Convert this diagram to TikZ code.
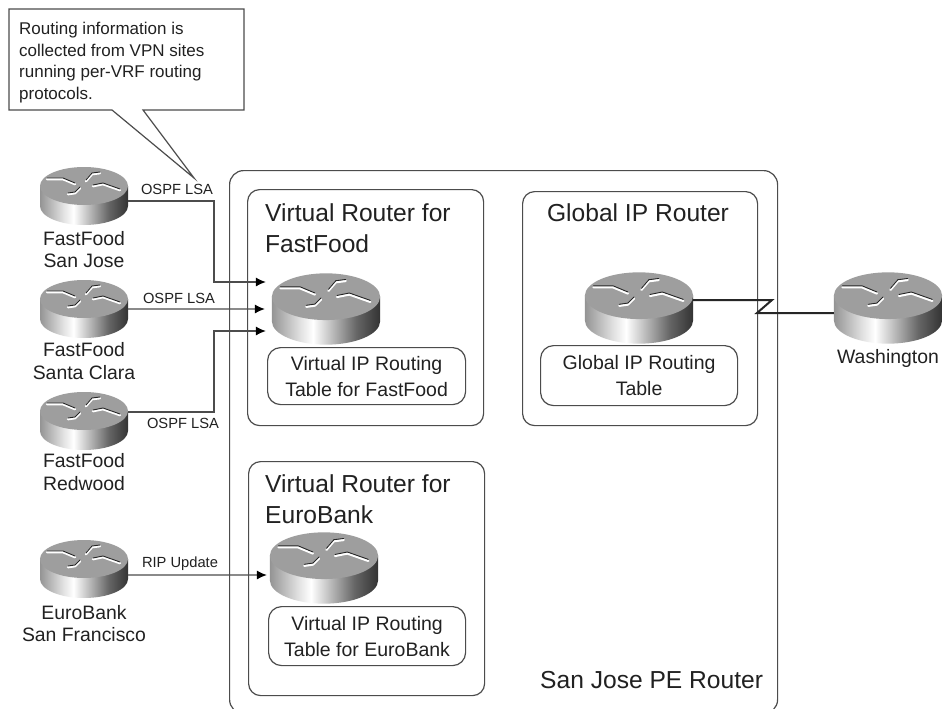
\documentclass[tikz,border=0pt]{standalone}
\usepackage{fontspec}
\setmainfont{Liberation Sans}
\usetikzlibrary{arrows.meta,calc,positioning}
\pgfdeclarehorizontalshading{routerside}{100bp}{color(0bp)=(black!42); color(25bp)=(black!42); color(38bp)=(black!12); color(44bp)=(white); color(54bp)=(black!30); color(64bp)=(black!60); color(75bp)=(black!80); color(100bp)=(black!80)}
\definecolor{lineGray}{rgb}{0.3 0.3 0.3}
\definecolor{textGray}{rgb}{0.13 0.13 0.13}
\tikzset{
  outerBox/.style={draw=lineGray,line width=1.2pt,rounded corners=14pt,anchor=north west,inner sep=0pt},
  innerBox/.style={draw=lineGray,line width=1.2pt,rounded corners=12pt,anchor=north west,inner sep=0pt},
  tableBox/.style={draw=lineGray,line width=1.2pt,rounded corners=13pt,anchor=north west,inner sep=0pt,align=center,text=textGray,font=\fontsize{19.5}{26}\selectfont},
  titleText/.style={anchor=west,align=left,inner sep=0pt,text=textGray,font=\fontsize{24.6}{31}\selectfont},
  siteText/.style={align=center,inner sep=0pt,text=textGray,font=\fontsize{19.4}{22.7}\selectfont},
  wireText/.style={inner sep=0pt,text=textGray,font=\fontsize{14.7}{16}\selectfont},
  wire/.style={draw=lineGray,line width=1.2pt},
  serial/.style={draw=black!85,line width=2pt},
  >={Latex[length=10pt,width=9pt,color=black]}
}

\begin{document}
\begin{tikzpicture}[x=1pt,y=-1pt]

      \useasboundingbox (0,0) rectangle (943,709);
      \fill[white] (0,0) rectangle (943,709);

      % draw the boxes
      \node[outerBox,minimum width=548pt,minimum height=543pt] (peBox) at (229,170) {};
      \node[innerBox,minimum width=236pt,minimum height=236pt] (vffBox) at (247,189) {};
      \node[innerBox,minimum width=236pt,minimum height=234pt] (vebBox) at (248,461) {};
      \node[innerBox,minimum width=235pt,minimum height=234pt] (globalBox) at (522,191) {};

      % draw the routers
      \def\routers{ffsj/84/186/1,
        ffsc/84/299/1,
        ffrw/84/411/1,
        ebsf/84/559/1,
        vff/326/296.7/1.23,
        veb/324/555.7/1.23,
        grt/639/295.7/1.23,
        wash/888/295.7/1.23}

      \foreach \rname/\rx/\ry/\rk in \routers
      {
        \pgfmathsetmacro\rw{88*\rk}
        \pgfmathsetmacro\rh{58*\rk}
        \begin{scope}[shift={(\rx,\ry)},xscale=\rk,yscale=\rk]
          \shade[shading=routerside] (-44,0) -- (-44,20) arc (180:0:44 and 19) -- (44,0) -- cycle;
          \fill[black!38] (0,0) ellipse (44 and 19);
          \foreach \wid/\col/\off in {2.3/white/1.2,0.9/black!85/0}
          {
            \draw[line width=\wid pt,\col,line cap=round,line join=round]
              (-37,-8+\off) -- (-21,-8+\off) -- (-9,-3+\off)
              (2,-6+\off) -- (8,-13+\off) -- (16,-14+\off)
              (9,-1+\off) -- (19,-3+\off) -- (36,3+\off)
              (-16,7+\off) -- (-9,6+\off) -- (-4,1+\off);
          }
          \node[minimum width=\rw pt,minimum height=\rh pt,inner sep=0pt,outer sep=0pt] (\rname) at (0,10) {};
        \end{scope}
      }

      % label the routers and the boxes
      \node[siteText] (ffsjText) at (84,249.5) {FastFood\\San Jose};
      \node[siteText] (ffscText) at (84,361) {FastFood\\Santa Clara};
      \node[siteText] (ffrwText) at (84,472) {FastFood\\Redwood};
      \node[siteText] (ebsfText) at (84,623.5) {EuroBank\\San Francisco};
      \node[siteText] (washText) at (888,358) {Washington};
      \node[titleText] (vffTitle) at (265,228.5) {Virtual Router for\\FastFood};
      \node[titleText] (vebTitle) at (265,499) {Virtual Router for\\EuroBank};
      \node[titleText,anchor=center] (globalTitle) at (638,213) {Global IP Router};
      \node[titleText] (peTitle) at (540,680) {San Jose PE Router};

      % draw the routing tables
      \node[tableBox,minimum width=198pt,minimum height=57pt] (vffTable) at (267,347) {Virtual IP Routing\\Table for FastFood};
      \node[tableBox,minimum width=197pt,minimum height=59pt] (vebTable) at (268,606) {Virtual IP Routing\\Table for EuroBank};
      \node[tableBox,minimum width=197pt,minimum height=60pt] (globalTable) at (540,345) {Global IP Routing\\Table};

      % draw the links
      \coordinate (ffsjBend) at (214,201);
      \coordinate (ffrwBend) at (214,412);
      \draw[wire,->] ([yshift=-5pt]ffsj.east) -- (ffsjBend) |- ([xshift=-6pt,yshift=27pt]vff.west);
      \draw[wire,->] (ffsc.east) -- ([xshift=-7pt]vff.west);
      \draw[wire,->] ([yshift=9pt]ffrw.east) -- (ffrwBend) |- ([xshift=-6pt,yshift=-22pt]vff.west);
      \draw[wire,->] ([yshift=-6pt]ebsf.east) -- ([xshift=-3pt,yshift=-7pt]veb.west);

      \node[wireText] (lsaOne) at (177,189) {OSPF LSA};
      \node[wireText] (lsaTwo) at (179,298) {OSPF LSA};
      \node[wireText] (lsaThree) at (183,423) {OSPF LSA};
      \node[wireText] (ripText) at (180,564) {RIP Update};

      % draw the serial link
      \coordinate (zigTop) at (772,300);
      \coordinate (zigLow) at (757,313);
      \draw[serial] ([yshift=8pt]grt.east) -- (zigTop) -- (zigLow) -- ([yshift=-5pt]wash.west);

      % draw the callout
      \draw[wire,fill=white] (9,9) -- (244,9) -- (244,110) -- (143,110) -- (194,178) -- (112,110) -- (9,110) -- cycle;
      \node[anchor=north west,align=left,inner sep=0pt,text=textGray,font=\fontsize{17}{21.7}\selectfont] (noteText) at (19,22) {Routing information is\\collected from VPN sites\\running per-VRF routing\\protocols.};

\end{tikzpicture}
\end{document}
